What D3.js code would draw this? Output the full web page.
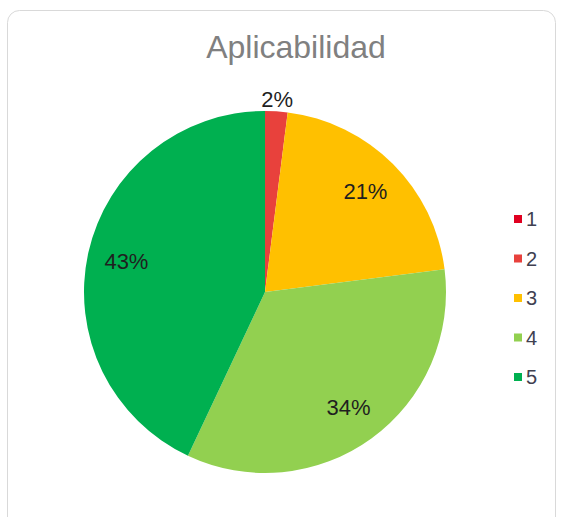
<!DOCTYPE html>
<html>
<head>
<meta charset="utf-8">
<script src="https://cdnjs.cloudflare.com/ajax/libs/d3/7.8.5/d3.min.js"></script>
<style>
  body { margin: 0; background: #fff; }
  text { font-family: "Liberation Sans", Arial, sans-serif; }
</style>
</head>
<body>
<svg id="chart" width="563" height="517"></svg>
<script>
// data
var categories = ["1", "2", "3", "4", "5"];
var values = [0, 2, 21, 34, 43];
var colors = ["#E00020", "#E8413C", "#FFC000", "#92D050", "#00B050"];
var title = "Aplicabilidad";

var width = 563, height = 517;
var cx = 265, cy = 292, radius = 181;

var svg = d3.select("#chart");

// card border
svg.append("rect")
  .attr("x", 7.5).attr("y", 10.5)
  .attr("width", 548).attr("height", 530)
  .attr("rx", 12).attr("ry", 12)
  .style("fill", "#fff")
  .style("stroke", "#d9d9d9")
  .style("stroke-width", 1);

svg.append("text")
  .attr("x", 296).attr("y", 58)
  .attr("text-anchor", "middle")
  .style("font-size", "32px")
  .style("fill", "#808080")
  .text(title);

var data = categories.map(function (c, i) {
  return { cat: c, value: values[i], color: colors[i] };
});

var pie = d3.pie().sort(null).value(function (d) { return d.value; });
var arc = d3.arc().innerRadius(0).outerRadius(radius);
var labelArc = d3.arc().innerRadius(142).outerRadius(142);
var outerArc = d3.arc().innerRadius(193).outerRadius(193);
var total = d3.sum(values);

var g = svg.append("g").attr("transform", "translate(" + cx + "," + cy + ")");

var arcs = pie(data);

g.selectAll("path")
  .data(arcs)
  .enter().append("path")
  .attr("d", arc)
  .style("fill", function (d) { return d.data.color; });

// percentage labels
g.selectAll("text.lbl")
  .data(arcs.filter(function (d) { return d.data.value > 0; }))
  .enter().append("text")
  .attr("class", "lbl")
  .attr("transform", function (d) {
    var a = (d.data.value / total < 0.05) ? outerArc : labelArc;
    return "translate(" + a.centroid(d) + ")";
  })
  .attr("text-anchor", "middle")
  .attr("dy", "0.35em")
  .style("font-size", "22px")
  .style("fill", "#1f1f1f")
  .text(function (d) { return Math.round(d.data.value / total * 100) + "%"; });

// legend
var legend = svg.append("g").attr("transform", "translate(514,219)");
var item = legend.selectAll("g")
  .data(data)
  .enter().append("g")
  .attr("transform", function (d, i) { return "translate(0," + (i * 39.5) + ")"; });

item.append("rect")
  .attr("x", 0).attr("y", -4)
  .attr("width", 8).attr("height", 8)
  .style("fill", function (d) { return d.color; });

item.append("text")
  .attr("x", 12).attr("dy", "0.35em")
  .style("font-size", "20px")
  .style("fill", "#404050")
  .text(function (d) { return d.cat; });
</script>
</body>
</html>
